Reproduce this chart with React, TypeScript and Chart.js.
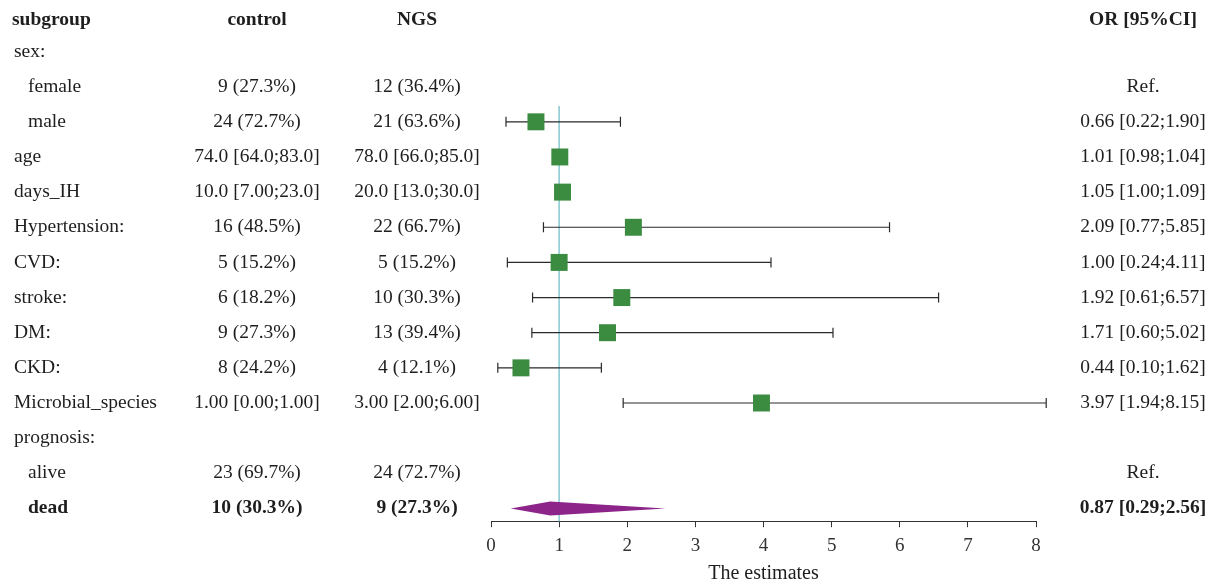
import React, { useEffect, useRef } from "react";
import { Chart, registerables } from "chart.js";

Chart.register(...registerables);

// ---- data ----
const headers = ["subgroup", "control", "NGS", "OR [95%CI]"];
const subgroups = [
  "sex:", "female", "male", "age", "days_IH", "Hypertension:", "CVD:", "stroke:",
  "DM:", "CKD:", "Microbial_species", "prognosis:", "alive", "dead",
];
const indented = [false, true, true, false, false, false, false, false, false, false, false, false, true, true];
const boldRow = [false, false, false, false, false, false, false, false, false, false, false, false, false, true];
const controlText = [
  "", "9 (27.3%)", "24 (72.7%)", "74.0 [64.0;83.0]", "10.0 [7.00;23.0]", "16 (48.5%)", "5 (15.2%)",
  "6 (18.2%)", "9 (27.3%)", "8 (24.2%)", "1.00 [0.00;1.00]", "", "23 (69.7%)", "10 (30.3%)",
];
const ngsText = [
  "", "12 (36.4%)", "21 (63.6%)", "78.0 [66.0;85.0]", "20.0 [13.0;30.0]", "22 (66.7%)", "5 (15.2%)",
  "10 (30.3%)", "13 (39.4%)", "4 (12.1%)", "3.00 [2.00;6.00]", "", "24 (72.7%)", "9 (27.3%)",
];
const orText = [
  "", "Ref.", "0.66 [0.22;1.90]", "1.01 [0.98;1.04]", "1.05 [1.00;1.09]", "2.09 [0.77;5.85]",
  "1.00 [0.24;4.11]", "1.92 [0.61;6.57]", "1.71 [0.60;5.02]", "0.44 [0.10;1.62]", "3.97 [1.94;8.15]",
  "", "Ref.", "0.87 [0.29;2.56]",
];
// markers: squares (rows 2..10), diamond for the last row
const estimate = [null, null, 0.66, 1.01, 1.05, 2.09, 1.0, 1.92, 1.71, 0.44, 3.97, null, null, 0.87];
const lower = [null, null, 0.22, 0.98, 1.0, 0.77, 0.24, 0.61, 0.6, 0.1, 1.94, null, null, 0.29];
const upper = [null, null, 1.9, 1.04, 1.09, 5.85, 4.11, 6.57, 5.02, 1.62, 8.15, null, null, 2.56];
const diamondRow = 13;
const headerRow = -0.885;
const refValue = 1;
const xTicks = [0, 1, 2, 3, 4, 5, 6, 7, 8];

const FONT = '"Liberation Serif", "Times New Roman", serif';
const TEXT = "#1e1e1e";
const GREEN = "#3b8c40";
const PURPLE = "#8c2489";
const REF = "#86c8d0";

const forestPlugin = {
  id: "forest",
  beforeDatasetsDraw(chart: any) {
    const { ctx, scales } = chart;
    const x = scales.x, y = scales.y;
    ctx.save();
    // reference line
    ctx.strokeStyle = REF;
    ctx.lineWidth = 1.5;
    ctx.beginPath();
    const rx = x.getPixelForValue(refValue);
    ctx.moveTo(rx, y.getPixelForValue(1.55));
    ctx.lineTo(rx, chart.chartArea.bottom);
    ctx.stroke();
    // CI lines
    ctx.strokeStyle = "#2a2a2a";
    ctx.lineWidth = 1.2;
    for (let i = 0; i < estimate.length; i++) {
      if (estimate[i] == null || i === diamondRow) continue;
      const py = y.getPixelForValue(i);
      const x1 = x.getPixelForValue(lower[i] as number);
      const x2 = x.getPixelForValue(upper[i] as number);
      ctx.beginPath();
      ctx.moveTo(x1, py);
      ctx.lineTo(x2, py);
      ctx.moveTo(x1, py - 5);
      ctx.lineTo(x1, py + 5);
      ctx.moveTo(x2, py - 5);
      ctx.lineTo(x2, py + 5);
      ctx.stroke();
    }
    ctx.restore();
  },
  afterDatasetsDraw(chart: any) {
    const { ctx, scales } = chart;
    const x = scales.x, y = scales.y;
    ctx.save();
    const i = diamondRow;
    const py = y.getPixelForValue(i);
    ctx.fillStyle = PURPLE;
    ctx.beginPath();
    ctx.moveTo(x.getPixelForValue(lower[i] as number), py);
    ctx.lineTo(x.getPixelForValue(estimate[i] as number), py - 7);
    ctx.lineTo(x.getPixelForValue(upper[i] as number), py);
    ctx.lineTo(x.getPixelForValue(estimate[i] as number), py + 7);
    ctx.closePath();
    ctx.fill();
    ctx.restore();
  },
  afterDraw(chart: any) {
    const { ctx, scales } = chart;
    const y = scales.y;
    const colX = { sub: 14, subIndent: 28, control: 257, ngs: 417, or: 1143 };
    ctx.save();
    ctx.fillStyle = TEXT;
    ctx.textBaseline = "middle";
    const hy = y.getPixelForValue(headerRow);
    ctx.font = `bold 19.5px ${FONT}`;
    ctx.textAlign = "left";
    ctx.fillText(headers[0], 12, hy);
    ctx.textAlign = "center";
    ctx.fillText(headers[1], colX.control, hy);
    ctx.fillText(headers[2], colX.ngs, hy);
    ctx.fillText(headers[3], colX.or, hy);
    for (let i = 0; i < subgroups.length; i++) {
      const py = y.getPixelForValue(i);
      ctx.font = `${boldRow[i] ? "bold " : ""}19.5px ${FONT}`;
      ctx.textAlign = "left";
      ctx.fillText(subgroups[i], indented[i] ? colX.subIndent : colX.sub, py);
      ctx.textAlign = "center";
      if (controlText[i]) ctx.fillText(controlText[i], colX.control, py);
      if (ngsText[i]) ctx.fillText(ngsText[i], colX.ngs, py);
      if (orText[i]) ctx.fillText(orText[i], colX.or, py);
    }
    ctx.restore();
  },
};

export default function App() {
  const ref = useRef<HTMLCanvasElement | null>(null);
  useEffect(() => {
    if (!ref.current) return;
    const squares = estimate
      .map((v, i) => (v != null && i !== diamondRow ? { x: v, y: i } : null))
      .filter((p) => p !== null);
    const chart = new Chart(ref.current, {
      type: "scatter",
      data: {
        datasets: [
          {
            data: squares as any,
            pointStyle: "rect",
            pointRadius: 12,
            pointHoverRadius: 12,
            backgroundColor: GREEN,
            borderWidth: 0,
            clip: false as any,
          },
        ],
      },
      options: {
        animation: false,
        responsive: true,
        maintainAspectRatio: false,
        events: [],
        layout: { autoPadding: false, padding: { left: 491, right: 183, top: 0, bottom: 0 } },
        plugins: { legend: { display: false }, tooltip: { enabled: false } },
        scales: {
          x: {
            type: "linear",
            min: 0,
            max: 8,
            afterBuildTicks: (s: any) => {
              s.ticks = xTicks.map((v) => ({ value: v }));
            },
            ticks: { font: { family: FONT, size: 19 }, color: "#333", padding: 7, maxRotation: 0 },
            grid: { display: true, drawOnChartArea: false, drawTicks: true, tickLength: 6, color: "#333", lineWidth: 1 },
            border: { display: true, color: "#333", width: 1 },
            title: {
              display: true,
              text: "The estimates",
              font: { family: FONT, size: 20, lineHeight: 1 },
              color: TEXT,
              padding: { top: 0, bottom: 0 },
            },
          },
          y: {
            type: "linear",
            display: false,
            reverse: true,
            min: -1.466,
            max: 13.363,
          },
        },
      },
      plugins: [forestPlugin],
    });
    return () => chart.destroy();
  }, []);
  return (
    <div style={{ position: "fixed", left: 0, top: 0, width: 1219, height: 584, background: "#fff" }}>
      <canvas ref={ref} />
    </div>
  );
}
